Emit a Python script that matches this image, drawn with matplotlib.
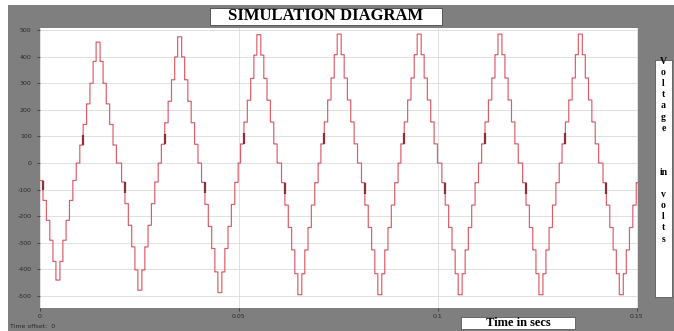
import numpy as np
import matplotlib
matplotlib.use("Agg")
import matplotlib.pyplot as plt
from matplotlib.patches import Rectangle

# ---------------- data ----------------
# times (s) of each half-cycle extremum, negative half first
extrema_t = [0.0045, 0.0146, 0.0251, 0.0351, 0.0452, 0.0550, 0.0653, 0.0752,
             0.0854, 0.0953, 0.1056, 0.1156, 0.1259, 0.1358, 0.1461]
# extremum voltage of each half cycle (V)
extrema_v = [-440, 455, -478, 475, -487, 483, -495, 485,
             -495, 485, -495, 485, -495, 485, -495]
# staircase levels of a full-amplitude half cycle (V), level 0..6
stair_levels = [0, 70, 150, 230, 310, 395, 470]
# half-width (ms) around the extremum during which each level 1..6 is held
stair_halfwidth_ms = [4.6, 3.75, 2.9, 2.05, 1.25, 0.5]

t_end = 0.1503
y_ticks = [500, 400, 300, 200, 100, 0, -100, -200, -300, -400, -500]
x_ticks = [0, 0.05, 0.1, 0.15]
x_ticklabels = ["0", "0.05", "0.1", "0.15"]

# ---------------- build staircase waveform ----------------
t = np.linspace(0, t_end, 30001)
v = np.zeros_like(t)
for tc, vp in zip(extrema_t, extrema_v):
    sign = 1 if vp > 0 else -1
    scale = abs(vp) / stair_levels[-1]
    dt = np.abs(t - tc) * 1000.0
    for lvl, hw in zip(stair_levels[1:], stair_halfwidth_ms):
        mask = dt <= hw
        v[mask] = np.where(np.abs(v[mask]) < lvl * scale, sign * lvl * scale, v[mask])

# ---------------- figure ----------------
W, H = 674, 331
fig = plt.figure(figsize=(W / 100, H / 100), dpi=100)
fig.patch.set_facecolor("white")

def fx(px):
    return px / W

def fy(py):
    return 1 - py / H

gray = "#7f7f7f"
bg = Rectangle((fx(8), 0), 1 - fx(8), fy(5), transform=fig.transFigure,
               facecolor=gray, edgecolor="none", zorder=-10)
fig.add_artist(bg)

ax = fig.add_axes([fx(40), fy(308), fx(638) - fx(40), fy(28) - fy(308)])
ax.set_zorder(1)
ax.set_facecolor("white")
ax.step(t, v, where="post", color="#dc5c69", lw=0.85)

# darker blips on the entering level-1 -> level-2 transitions
for tc, vp in zip(extrema_t, extrema_v):
    sign = 1 if vp > 0 else -1
    scale = abs(vp) / stair_levels[-1]
    tm = tc - stair_halfwidth_ms[1] / 1000.0
    if tm >= 0:
        ax.vlines(tm, sign * stair_levels[1] * scale,
                  sign * 0.5 * (stair_levels[1] + stair_levels[2]) * scale,
                  color="#8a2e3a", lw=1.6)

ax.set_xlim(0, t_end)
ax.set_ylim(-545, 508)
ax.set_yticks(y_ticks)
ax.set_yticklabels([str(y) for y in y_ticks])
ax.set_xticks(x_ticks)
ax.set_xticklabels(x_ticklabels)
ax.grid(True, color="#dadada", lw=0.6)
for s in ax.spines.values():
    s.set_visible(False)
ax.tick_params(axis="both", labelsize=4.5, colors="#2a2a2a", length=2, width=0.5)
ax.tick_params(axis="y", pad=4)
ax.tick_params(axis="x", pad=2)

serif = ["Liberation Serif", "DejaVu Serif"]

# title box
fig.add_artist(Rectangle((fx(210), fy(25)), fx(442) - fx(210), fy(8) - fy(25),
                         transform=fig.transFigure, facecolor="white",
                         edgecolor="#444444", lw=0.6, zorder=3))
fig.text(fx(326), fy(16.5), "SIMULATION DIAGRAM", ha="center", va="center",
         fontsize=12, fontweight="bold", family=serif, color="black", zorder=4)

# x label box
fig.add_artist(Rectangle((fx(461), fy(329)), fx(575) - fx(461), fy(317) - fy(329),
                         transform=fig.transFigure, facecolor="white",
                         edgecolor="#444444", lw=0.5, zorder=3))
fig.text(fx(518), fy(323), "Time in secs", ha="center", va="center",
         fontsize=9, fontweight="bold", family=serif, color="black", zorder=4)

# right y label box
fig.add_artist(Rectangle((fx(655), fy(297)), fx(672) - fx(655), fy(60) - fy(297),
                         transform=fig.transFigure, facecolor="white",
                         edgecolor="#444444", lw=0.5, zorder=3))
fig.text(fx(663.5), fy(57), "V\no\nl\nt\na\ng\ne\n\n\n\nin\n\nv\no\nl\nt\ns",
         ha="center", va="top", fontsize=7, fontweight="bold", family=serif,
         color="black", linespacing=1.3, zorder=4)

fig.text(fx(10), fy(327), "Time offset:  0", ha="left", va="center",
         fontsize=4.5, color="#2a2a2a")

fig.savefig("out.png", dpi=100, facecolor=fig.get_facecolor())
